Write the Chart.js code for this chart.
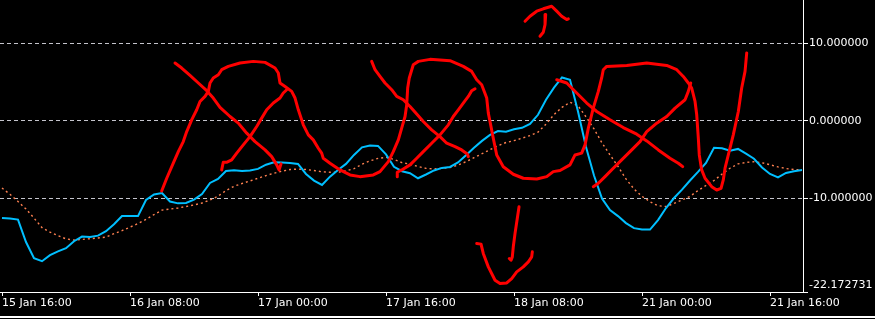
<!DOCTYPE html>
<html>
<head>
<meta charset="utf-8">
<script src="https://cdn.jsdelivr.net/npm/chart.js@4.4.1/dist/chart.umd.min.js"></script>
<style>
  html, body { margin: 0; padding: 0; background: #000; }
  #wrap { width: 875px; height: 319px; position: relative; overflow: hidden; }
  #frameLine { position: absolute; left: 0; top: 316px; width: 875px; height: 2px; background: #fff; }
</style>
</head>
<body>
<div id="wrap">
  <canvas id="oscChart" width="875" height="316"></canvas>
  <div id="frameLine"></div>
</div>
<script>
// hourly bars, one label every 16 bars
const tickLabels = ["15 Jan 16:00", "16 Jan 08:00", "17 Jan 00:00", "17 Jan 16:00", "18 Jan 08:00", "21 Jan 00:00", "21 Jan 16:00"];
const barsPerLabel = 16;
const yTickValues = [-22.172731, -10, 0, 10];
const yMax = 15.65;

// main oscillator (blue)
const mainLine = [
  -12.6, -12.66, -12.79, -15.7, -17.8, -18.18, -17.4, -16.9, -16.5, -15.6,
  -15.0, -15.06, -14.87, -14.3, -13.4, -12.34, -12.34, -12.34, -10.26, -9.55,
  -9.35, -10.45, -10.69, -10.65, -10.2, -9.48, -8.05, -7.53, -6.49, -6.4,
  -6.49, -6.43, -6.23, -5.68, -5.36, -5.39, -5.45, -5.58, -6.88, -7.74,
  -8.31, -7.23, -6.36, -5.58, -4.42, -3.44, -3.2, -3.25, -4.35, -5.95,
  -6.53, -6.79, -7.44, -6.95, -6.43, -6.1, -5.97, -5.39, -4.47, -3.5,
  -2.6, -1.82, -1.32, -1.4, -1.1, -0.91, -0.39, 0.78, 2.73, 4.29,
  5.62, 5.32, 1.21, -3.38, -7.08, -10.06, -11.56, -12.34, -13.25, -13.9,
  -14.09, -14.09, -12.86, -11.3, -10.0, -8.92, -7.73, -6.62, -5.45, -3.5,
  -3.55, -3.86, -3.64, -4.26, -4.91, -6.04, -6.88, -7.34, -6.75, -6.52,
  -6.36
];

// signal line (orange dots)
const signalLine = [
  -8.7, -9.52, -10.45, -11.43, -12.6, -13.83, -14.42, -14.87, -15.29, -15.45,
  -15.36, -15.27, -15.18, -15.06, -14.62, -14.22, -13.77, -13.31, -12.77, -12.14,
  -11.56, -11.43, -11.3, -11.1, -10.9, -10.65, -10.26, -9.77, -9.03, -8.48,
  -8.12, -7.79, -7.44, -7.1, -6.78, -6.52, -6.31, -6.25, -6.31, -6.44,
  -6.6, -6.66, -6.66, -6.49, -6.2, -5.61, -5.19, -4.86, -4.74, -4.99,
  -5.42, -5.62, -5.91, -6.16, -6.23, -6.16, -6.04, -5.74, -5.3, -4.78,
  -4.26, -3.74, -3.22, -2.81, -2.57, -2.25, -1.91, -1.47, -0.43, 0.81,
  1.75, 2.4, 1.95, 0.52, -1.04, -2.86, -4.42, -5.91, -7.53, -8.83,
  -9.78, -10.48, -11.0, -11.1, -10.71, -10.25, -9.79, -9.03, -8.38, -7.73,
  -6.91, -6.14, -5.58, -5.39, -5.3, -5.43, -5.69, -5.97, -6.18, -6.32,
  -6.36
];

// hand drawn red strokes, [bar, value]
const strokeArches = [
  [19.96,-9.09],[20.59,-7.44],[21.41,-5.49],[22.04,-3.99],[22.66,-2.69],[23.09,-1.39],[23.71,0.13],
  [24.34,1.43],[24.75,2.51],[25.38,3.16],[25.79,3.81],[26.0,4.9],[26.41,5.55],[27.04,5.97],[27.46,6.62],
  [28.29,7.05],[29.75,7.49],[31.41,7.7],[32.88,7.57],[34.13,6.84],[34.54,6.19],[34.75,4.9],[35.38,4.45],
  [36.21,3.81],[36.63,2.95],[37.04,1.43],[37.66,-0.52],[38.29,-1.82],[38.91,-2.47],[39.54,-3.55],
  [39.96,-4.19],[40.16,-4.84],[41.0,-5.49],[42.25,-6.36],[43.5,-7.01],[44.75,-7.23],[46.41,-7.01],
  [47.25,-6.58],[48.29,-5.29],[48.91,-3.99],[49.54,-2.47],[49.96,-0.95],[50.38,0.56],[50.59,2.08],
  [50.71,4.25],[50.91,5.55],[51.41,7.27],[52.04,7.7],[53.5,7.96],[56.0,7.79],[57.66,7.05],[58.71,6.4],
  [59.34,5.32],[59.96,4.68],[60.59,2.95],[60.79,1.0],[61.0,-0.09],[61.41,-2.25],[61.84,-4.42],
  [62.66,-5.94],[63.91,-6.92],[65.16,-7.44],[66.84,-7.53],[68.09,-7.23],[68.91,-6.58],[69.75,-6.43],
  [71.0,-5.71],[71.63,-4.42],[72.46,-4.19],[72.88,-3.12],[73.29,-0.95],[73.91,1.65],[74.54,3.81],
  [74.96,5.55],[75.16,6.62],[75.59,7.05],[78.09,7.18],[80.59,7.49],[83.09,7.18],[84.34,6.62],
  [85.16,5.75],[85.79,4.9],[86.21,4.25],[86.63,2.51],[86.84,0.78],[87.04,-2.25],[87.16,-4.42],
  [87.46,-6.36],[87.88,-7.44],[88.71,-8.53],[89.34,-8.96],[89.88,-8.74],[90.16,-7.66],[90.38,-6.14],
  [90.79,-4.42],[91.41,-1.82],[92.04,1.21],[92.46,4.25],[92.88,6.4],[93.09,8.79]
];
const strokeX1Down = [
  [21.63,7.49],[22.46,6.84],[23.5,5.88],[24.54,4.9],[25.59,3.9],[26.41,2.95],[27.25,1.73],[28.5,0.56],
  [29.54,-0.3],[30.59,-1.6],[31.63,-2.69],[32.88,-3.77],[33.71,-4.64],[34.34,-5.71],[34.63,-6.36],[34.88,-5.58]
];
const strokeX1Up = [
  [27.46,-6.36],[27.66,-5.36],[28.13,-5.36],[28.71,-5.06],[29.34,-4.19],[30.16,-3.12],[31.0,-2.04],
  [31.84,-0.74],[32.46,0.35],[33.09,1.43],[33.91,2.3],[34.75,2.95],[35.16,3.6],[35.59,4.03]
];
const strokeX2Down = [
  [46.21,7.7],[46.63,6.62],[47.25,5.75],[47.88,4.9],[48.71,4.03],[49.34,3.16],[50.16,2.73],[51.0,1.86],
  [51.84,0.87],[52.66,-0.09],[53.71,-1.17],[54.75,-2.04],[55.59,-2.9],[56.63,-3.34],[57.46,-3.77],
  [58.16,-4.29],[58.29,-4.64]
];
const strokeX2Up = [
  [49.41,-7.23],[49.41,-6.66],[49.96,-6.36],[51.0,-5.71],[51.84,-4.84],[52.66,-3.99],[53.71,-2.9],
  [54.75,-1.82],[55.79,-0.52],[56.41,0.56],[57.04,1.43],[57.66,2.3],[58.29,3.16],[58.71,3.9],[59.13,4.16]
];
const strokeX3Down = [
  [69.34,5.32],[70.59,4.9],[71.84,3.6],[73.09,2.3],[74.34,1.21],[76.0,0.13],[77.66,-0.87],[79.34,-1.73],
  [80.59,-2.6],[82.04,-3.77],[83.5,-4.84],[84.54,-5.49],[85.09,-5.94]
];
const strokeX3Up = [
  [73.91,-8.53],[74.54,-8.09],[75.38,-7.23],[76.41,-6.14],[77.46,-5.06],[78.5,-3.99],[79.75,-2.69],
  [80.59,-1.39],[81.84,-0.3],[83.09,0.56],[84.13,1.65],[85.38,2.73],[85.79,3.81],[86.09,4.9]
];
const strokeUpArrowBar = [
  [65.38,12.9],[66.0,13.55],[66.84,14.2],[67.66,14.51],[68.71,14.84],[69.34,14.2],[69.96,13.55],[70.59,13.12],[70.79,13.21]
];
const strokeUpArrowStem = [[67.96,13.77],[67.88,12.47],[67.66,11.47],[67.25,10.95]];
const strokeDownArrowStem = [
  [64.63,-11.13],[64.41,-12.64],[64.13,-14.58],[63.91,-16.32],[63.79,-17.62],[63.63,-18.05],[63.41,-17.83]
];
const strokeDownArrowCup = [
  [59.34,-15.88],[59.88,-15.97],[60.16,-17.18],[60.79,-18.92],[61.63,-20.65],[62.25,-21.08],[63.09,-21.0],
  [63.71,-20.43],[64.34,-19.57],[65.16,-18.92],[65.79,-18.27],[66.21,-17.62],[66.29,-16.97]
];

const redStrokes = [strokeArches, strokeX1Down, strokeX1Up, strokeX2Down, strokeX2Up, strokeX3Down,
  strokeX3Up, strokeUpArrowBar, strokeUpArrowStem, strokeDownArrowStem, strokeDownArrowCup];

Chart.defaults.font.family = "'DejaVu Sans', sans-serif";
Chart.defaults.font.size = 11;
Chart.defaults.color = "#fff";

const datasets = redStrokes.map((s) => ({
  data: s.map(([x, y]) => ({ x, y })),
  borderColor: "#ff0000",
  borderWidth: 3,
  borderCapStyle: "round",
  borderJoinStyle: "round",
  pointRadius: 0,
}));

datasets.push({
  data: mainLine.map((v, i) => ({ x: i, y: v })),
  borderColor: "#00bfff",
  borderWidth: 2,
  pointRadius: 0,
});
datasets.push({
  data: signalLine.map((v, i) => ({ x: i, y: v })),
  borderColor: "#ff8050",
  borderWidth: 1.4,
  borderDash: [2, 3],
  pointRadius: 0,
});

const ctx = document.getElementById("oscChart").getContext("2d");
new Chart(ctx, {
  type: "line",
  data: { datasets },
  options: {
    responsive: false,
    animation: false,
    devicePixelRatio: 1,
    layout: { padding: 0 },
    plugins: { legend: { display: false }, tooltip: { enabled: false } },
    elements: { line: { tension: 0 } },
    scales: {
      x: {
        type: "linear",
        min: -0.25,
        max: 100.125,
        afterBuildTicks: (scale) => {
          scale.ticks = tickLabels.map((_, k) => ({ value: k * barsPerLabel }));
        },
        afterFit: (scale) => {
          scale.height = 24;
          scale.paddingLeft = 0;
          scale.paddingRight = 0;
        },
        ticks: {
          color: "#fff",
          align: "start",
          maxRotation: 0,
          autoSkip: false,
          padding: 1,
          callback: (v) => tickLabels[Math.round(v / barsPerLabel)],
        },
        grid: { drawOnChartArea: false, drawTicks: true, tickLength: 4, tickColor: "#fff" },
        border: { color: "#fff", width: 1 },
      },
      y: {
        position: "right",
        min: yTickValues[0],
        max: yMax,
        afterBuildTicks: (scale) => {
          scale.ticks = yTickValues.map((v) => ({ value: v }));
        },
        afterFit: (scale) => {
          scale.width = 72;
          scale.paddingTop = 0;
          scale.paddingBottom = 0;
        },
        ticks: {
          color: "#fff",
          padding: 1,
          // lowest label sits above its tick like in the terminal
          callback: (v) => (v === yTickValues[0] ? [v.toFixed(6), ""] : v.toFixed(6)),
        },
        grid: {
          color: (c) => (c.tick && c.tick.value === yTickValues[0] ? "rgba(0,0,0,0)" : "#c4c4cc"),
          tickColor: "#fff",
          tickLength: 5,
        },
        border: { color: "#fff", width: 1, dash: [4, 3] },
      },
    },
  },
});
</script>
</body>
</html>
